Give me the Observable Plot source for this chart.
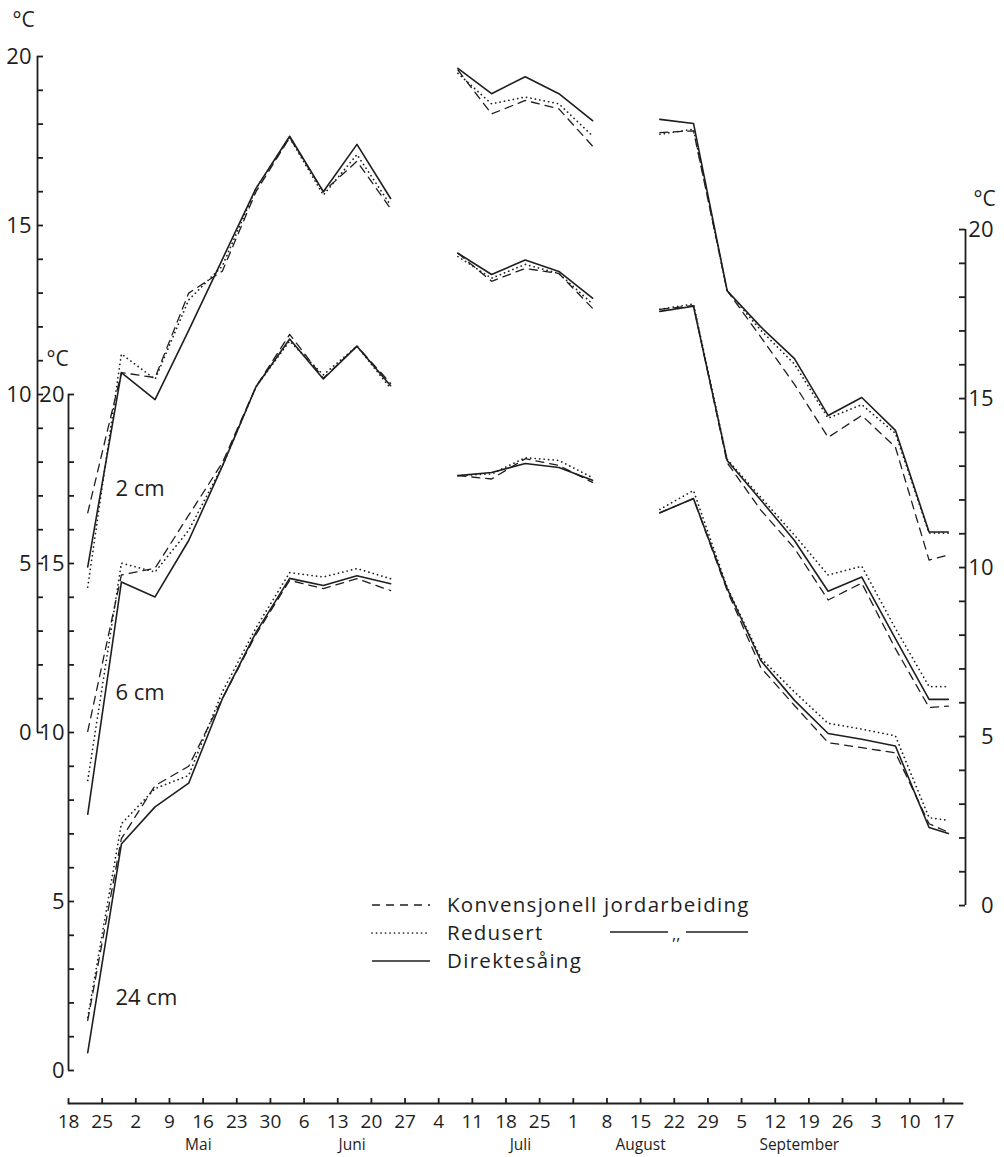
<!DOCTYPE html>
<html>
<head>
<meta charset="utf-8">
<script src="https://cdn.jsdelivr.net/npm/d3@7"></script>
<script src="https://cdn.jsdelivr.net/npm/@observablehq/plot@0.6"></script>
<style>
  body { margin: 0; background: #fff; }
  #wrap { position: relative; width: 1004px; height: 1157px; }
  #legend { position: absolute; left: 0; top: 0; pointer-events: none; }
  #legend text { font-family: "Open Sans", sans-serif; font-size: 20.5px; letter-spacing: 1.3px; fill: #1e1e1e; }
</style>
</head>
<body>
<div id="wrap"></div>
<script>
const year = 1986;
const toDate = s => new Date(`${year}-${s}T00:00:00Z`);

// Weekly tick marks along the season (18 April – 17 October)
const tickDays = ["04-18","04-25","05-02","05-09","05-16","05-23","05-30","06-06","06-13","06-20","06-27",
  "07-04","07-11","07-18","07-25","08-01","08-08","08-15","08-22","08-29","09-05","09-12","09-19","09-26",
  "10-03","10-10","10-17"];

// Month names placed under the weeks they belong to
const monthNames = ["Mai", "Juni", "Juli", "August", "September"];
const monthDays = ["05-15", "06-16", "07-21", "08-15", "09-17"];

// Observation dates (weekly means); null marks weeks without readings
const obsDays = ["04-22","04-29","05-06","05-13","05-20","05-27","06-03","06-10","06-17","06-24","07-01",
  "07-08","07-15","07-22","07-29","08-05","08-12","08-19","08-26","09-02","09-09","09-16","09-23","09-30",
  "10-07","10-14","10-18"];

// Soil temperature, °C — 2 cm depth
const konv2 = [6.5,10.65,10.5,13.0,13.65,16.0,17.6,16.0,16.9,15.5,null,19.6,18.3,18.7,18.45,17.35,null,17.75,17.8,13.07,11.7,10.3,8.73,9.38,8.44,5.1,5.25];
const red2  = [4.3,11.2,10.45,12.8,13.8,16.1,17.6,15.9,17.1,15.6,null,19.5,18.6,18.8,18.6,17.65,null,17.7,17.85,13.07,11.9,10.9,9.3,9.7,8.85,5.9,5.9];
const dir2  = [4.9,10.65,9.85,11.9,14.0,16.1,17.64,16.0,17.4,15.8,null,19.65,18.9,19.4,18.9,18.1,null,18.14,18.02,13.07,12.0,11.06,9.38,9.91,8.94,5.93,5.93];

// 6 cm depth
const konv6 = [5.15,9.78,9.98,11.55,13.1,15.35,16.9,15.6,16.55,15.45,null,19.3,18.47,18.85,18.7,17.67,null,17.64,17.75,13.1,11.7,10.57,9.04,9.54,7.6,5.86,5.9];
const red6  = [3.7,10.13,9.87,11.1,13.0,15.35,16.7,15.7,16.55,15.3,null,19.2,18.56,18.97,18.7,17.8,null,17.64,17.8,13.2,12.08,10.96,9.78,10.04,8.2,6.48,6.48];
const dir6  = [2.7,9.57,9.13,10.8,13.0,15.35,16.76,15.58,16.55,15.38,null,19.3,18.67,19.1,18.76,17.97,null,17.58,17.73,13.17,12.0,10.8,9.3,9.72,7.9,6.1,6.1];

// 24 cm depth
const konv24 = [1.48,6.86,8.43,9.0,11.0,12.9,14.5,14.26,14.55,14.2,null,17.6,17.5,18.1,17.9,17.4,null,16.5,16.92,14.2,11.92,10.8,9.7,9.55,9.4,7.3,7.05];
const red24  = [1.57,7.3,8.34,8.73,11.2,13.1,14.73,14.6,14.85,14.55,null,17.6,17.65,18.13,18.05,17.54,null,16.6,17.16,14.3,12.2,11.2,10.27,10.1,9.9,7.48,7.4];
const dir24  = [0.53,6.7,7.8,8.5,11.0,12.96,14.56,14.35,14.64,14.4,null,17.6,17.69,17.96,17.84,17.46,null,16.5,16.92,14.26,12.13,10.95,9.97,9.8,9.6,7.19,7.01];

const depths = ["2 cm", "6 cm", "24 cm"];
// Each depth has its own °C axis; shift expresses it on the shared vertical scale
const shift = {"2 cm": 10, "6 cm": 4.88, "24 cm": 0};
// Depth label heights, in the °C of each depth's own axis
const labelAt = {"2 cm": 7.2, "6 cm": 6.3, "24 cm": 2.16};

const axisTicks = d3.range(0, 21);
const axisLabels = [0, 5, 10, 15, 20];

const ticks = tickDays.map(toDate);
const obs = obsDays.map(toDate);
const xStart = ticks[0], xEnd = ticks[ticks.length - 1];

const series = [
  {depth: "2 cm", method: "konv", values: konv2},
  {depth: "2 cm", method: "red", values: red2},
  {depth: "2 cm", method: "dir", values: dir2},
  {depth: "6 cm", method: "konv", values: konv6},
  {depth: "6 cm", method: "red", values: red6},
  {depth: "6 cm", method: "dir", values: dir6},
  {depth: "24 cm", method: "konv", values: konv24},
  {depth: "24 cm", method: "red", values: red24},
  {depth: "24 cm", method: "dir", values: dir24}
];
const rows = series.flatMap(s => s.values.map((v, i) => ({
  depth: s.depth, method: s.method, date: obs[i],
  y: v == null ? NaN : v + shift[s.depth]
})));
const of = m => rows.filter(r => r.method === m);

const ink = "#1e1e1e";
const axisWidth = 1.8;

const chart = Plot.plot({
  width: 1004,
  height: 1157,
  marginLeft: 68,
  marginRight: 61,
  marginTop: 0,
  marginBottom: 54,
  x: {type: "utc", domain: [xStart, xEnd], axis: null},
  y: {domain: [0, 20], range: [1070, 394], axis: null},
  style: {fontFamily: "'Open Sans', sans-serif", color: ink, background: "#fff", overflow: "visible"},
  marks: [
    // x axis: baseline, upward weekly ticks, day numbers and months
    Plot.frame({anchor: "bottom", insetRight: -19, stroke: ink, strokeWidth: axisWidth}),
    Plot.ruleX(ticks, {x: d => d, insetTop: 1098, stroke: ink, strokeWidth: axisWidth}),
    Plot.text(ticks, {x: d => d, text: d => d.getUTCDate(), frameAnchor: "bottom", dy: 24, fontSize: 19, fill: ink}),
    Plot.text(monthNames, {x: (d, i) => toDate(monthDays[i]), text: d => d, frameAnchor: "bottom", dy: 46, fontSize: 15.5, fill: ink}),

    // outer left axis (2 cm)
    Plot.ruleX([xStart], {x: d => d, y1: 10, y2: 30, dx: -31, stroke: ink, strokeWidth: axisWidth}),
    Plot.ruleY(axisTicks, {y: d => d + shift["2 cm"], x1: () => xStart, x2: () => xStart, dx: -31, insetRight: -6, stroke: ink, strokeWidth: axisWidth}),
    Plot.text(axisLabels, {x: () => xStart, y: d => d + shift["2 cm"], text: d => d, dx: -37, textAnchor: "end", fontSize: 22, fill: ink}),
    Plot.text(["°C"], {x: () => xStart, y: () => 20 + shift["2 cm"], text: d => d, dx: -45, dy: -36, fontSize: 21, fill: ink}),

    // inner left axis (24 cm)
    Plot.ruleX([xStart], {x: d => d, y1: 0, y2: 20, stroke: ink, strokeWidth: axisWidth}),
    Plot.ruleY(axisTicks, {y: d => d + shift["24 cm"], x1: () => xStart, x2: () => xStart, insetRight: -6, stroke: ink, strokeWidth: axisWidth}),
    Plot.text(axisLabels, {x: () => xStart, y: d => d + shift["24 cm"], text: d => d, dx: -4, textAnchor: "end", fontSize: 22, fill: ink}),
    Plot.text(["°C"], {x: () => xStart, y: () => 20 + shift["24 cm"], text: d => d, dx: -11, dy: -35, fontSize: 21, fill: ink}),

    // right axis (6 cm)
    Plot.ruleX([xEnd], {x: d => d, y1: shift["6 cm"], y2: 20 + shift["6 cm"], dx: 22, stroke: ink, strokeWidth: axisWidth}),
    Plot.ruleY(axisTicks, {y: d => d + shift["6 cm"], x1: () => xEnd, x2: () => xEnd, dx: 22, insetLeft: -6, stroke: ink, strokeWidth: axisWidth}),
    Plot.text(axisLabels, {x: () => xEnd, y: d => d + shift["6 cm"], text: d => d, dx: 50, textAnchor: "end", fontSize: 22, fill: ink}),
    Plot.text(["°C"], {x: () => xEnd, y: () => 20 + shift["6 cm"], text: d => d, dx: 41, dy: -30, fontSize: 21, fill: ink}),

    // depth labels
    Plot.text(depths, {x: () => xStart, y: d => labelAt[d] + shift[d], text: d => d, dx: 47, textAnchor: "start", fontSize: 22, fill: ink}),

    // temperature curves: reduced (dotted), conventional (dashed), direct drilling (solid)
    Plot.line(of("red"), {x: "date", y: "y", z: "depth", stroke: ink, strokeWidth: 1.7, strokeDasharray: "0.1,4.4", strokeLinecap: "round"}),
    Plot.line(of("konv"), {x: "date", y: "y", z: "depth", stroke: ink, strokeWidth: 1.3, strokeDasharray: "8,6"}),
    Plot.line(of("dir"), {x: "date", y: "y", z: "depth", stroke: ink, strokeWidth: 1.6})
  ]
});

const wrap = document.getElementById("wrap");
wrap.appendChild(chart);

// Legend for the three tillage treatments
const legend = d3.create("svg").attr("id", "legend").attr("width", 1004).attr("height", 1157);
const rowsLegend = [
  {label: "Konvensjonell jordarbeiding", dash: "8,6", width: 1.3, cap: "butt", baseline: 912},
  {label: "Redusert", dash: "0.1,4.4", width: 1.7, cap: "round", baseline: 940},
  {label: "Direktesåing", dash: null, width: 1.6, cap: "butt", baseline: 968}
];
for (const r of rowsLegend) {
  legend.append("line")
    .attr("x1", 372).attr("x2", 430).attr("y1", r.baseline - 7).attr("y2", r.baseline - 7)
    .attr("stroke", ink).attr("stroke-width", r.width).attr("stroke-linecap", r.cap)
    .attr("stroke-dasharray", r.dash);
  legend.append("text").attr("x", 447).attr("y", r.baseline).text(r.label);
}
// ditto mark: "Redusert jordarbeiding"
legend.append("line").attr("x1", 610).attr("x2", 668).attr("y1", 932).attr("y2", 932).attr("stroke", ink).attr("stroke-width", 1.5);
legend.append("text").attr("x", 672).attr("y", 940).style("font-size", "16px").style("letter-spacing", "0px").text(",,");
legend.append("line").attr("x1", 686).attr("x2", 748).attr("y1", 932).attr("y2", 932).attr("stroke", ink).attr("stroke-width", 1.5);

wrap.appendChild(legend.node());
</script>
</body>
</html>
